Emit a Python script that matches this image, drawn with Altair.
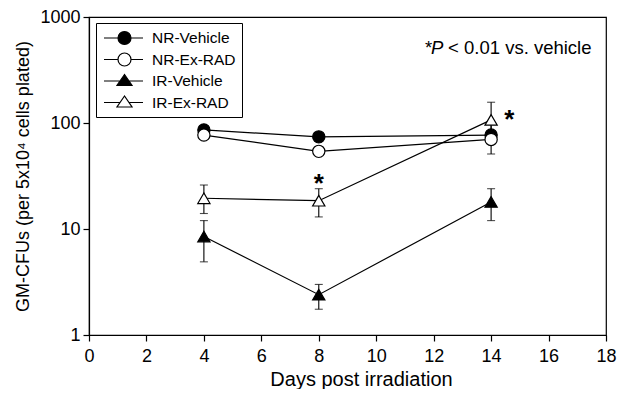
import altair as alt
import pandas as pd

days = [4, 8, 14]
series_names = ["NR-Vehicle", "NR-Ex-RAD", "IR-Vehicle", "IR-Ex-RAD"]
nr_vehicle = [86, 74, 77]
nr_vehicle_lo = [80, 70, 72]
nr_vehicle_hi = [93, 78, 81]
nr_exrad = [77, 54, 70]
nr_exrad_lo = [73, 50, 51]
nr_exrad_hi = [82, 58, 99]
ir_vehicle = [8.5, 2.4, 18]
ir_vehicle_lo = [4.9, 1.75, 12]
ir_vehicle_hi = [12, 3.0, 24]
ir_exrad = [19.5, 18.5, 107]
ir_exrad_lo = [14, 13, 75]
ir_exrad_hi = [26, 24, 157]

star_x = [8, 14.63]
star_y = [31, 124]
note_x = [11.7]
note_y = [447]

rows = []
for name, v, lo, hi in [
    ("NR-Vehicle", nr_vehicle, nr_vehicle_lo, nr_vehicle_hi),
    ("NR-Ex-RAD", nr_exrad, nr_exrad_lo, nr_exrad_hi),
    ("IR-Vehicle", ir_vehicle, ir_vehicle_lo, ir_vehicle_hi),
    ("IR-Ex-RAD", ir_exrad, ir_exrad_lo, ir_exrad_hi),
]:
    for d, a, l, h in zip(days, v, lo, hi):
        rows.append({"day": d, "value": a, "lo": l, "hi": h, "series": name, "series2": name})
df = pd.DataFrame(rows)

FONT = "Liberation Sans"
xs = alt.Scale(domain=[0, 18], nice=False)
ys = alt.Scale(type="log", domain=[1, 1000], nice=False)

x_enc = alt.X("day:Q", scale=xs, axis=alt.Axis(
    values=list(range(0, 19, 2)), title="Days post irradiation", grid=False, labelFlush=False,
    titleX=272, titleY=50, titleBaseline="alphabetic"))
y_enc = alt.Y("value:Q", scale=ys, axis=alt.Axis(
    values=[1, 10, 100, 1000], format="d", title="GM-CFUs (per 5x10⁴ cells plated)",
    grid=False, titleX=-66, titleBaseline="middle"))

fill_range = ["black", "white", "black", "white"]
shape_range = ["circle", "circle", "triangle-up", "triangle-up"]

base = alt.Chart(df)

lines = base.mark_line(color="black", strokeWidth=1.2).encode(
    x=x_enc, y=y_enc, detail="series:N")

rules = base.mark_rule(color="black", strokeWidth=1.1).encode(
    x="day:Q", y=alt.Y("lo:Q", scale=ys), y2="hi:Q")
cap_hi = base.mark_tick(color="black", orient="horizontal", size=8, thickness=1.1).encode(
    x="day:Q", y=alt.Y("hi:Q", scale=ys))
cap_lo = base.mark_tick(color="black", orient="horizontal", size=8, thickness=1.1).encode(
    x="day:Q", y=alt.Y("lo:Q", scale=ys))

points = base.mark_point(filled=False, stroke="black", strokeWidth=1.2, opacity=1).encode(
    x="day:Q", y=alt.Y("value:Q", scale=ys),
    shape=alt.Shape("series2:N", scale=alt.Scale(domain=series_names, range=shape_range), legend=None),
    fill=alt.Fill("series2:N", scale=alt.Scale(domain=series_names, range=fill_range), legend=None),
    size=alt.value(150),
)

circ = ("M-0.875,0H0.875M2.5,0H4M0.875,0A0.8125,0.8125 0 1,0 2.5,0"
        "A0.8125,0.8125 0 1,0 0.875,0Z")
tri = "M-0.875,0H1.13M2.245,0H4M1.6875,-0.81L0.7475,0.56L2.6275,0.56Z"
legend_shapes = [circ, circ, tri, tri]

fill_expr = "indexof(['NR-Vehicle','IR-Vehicle'], datum.value) >= 0 ? 'black' : 'white'"


def make_legend():
    return alt.Legend(
        title=None, orient="none", legendX=7, legendY=6,
        symbolOpacity=1, symbolSize=256, symbolStrokeColor="black",
        symbolStrokeWidth=1.2, labelFont=FONT, labelFontSize=15.5,
        labelColor="black", strokeColor="black", padding=6,
        rowPadding=3.5, labelOffset=32, labelBaseline="middle")


legend_layer = base.mark_point(opacity=0, strokeWidth=1.2,
                               fill=alt.ExprRef(fill_expr)).encode(
    x="day:Q", y=alt.Y("value:Q", scale=ys),
    shape=alt.Shape("series:N", scale=alt.Scale(domain=series_names, range=legend_shapes),
                    legend=make_legend()),
    stroke=alt.Stroke("series:N", scale=alt.Scale(domain=series_names, range=["black"] * 4),
                      legend=make_legend()),
)

stars_df = pd.DataFrame({"x": star_x, "y": star_y})
stars = alt.Chart(stars_df).mark_text(text="*", font=FONT, fontSize=26, fontWeight="bold",
                                      baseline="alphabetic", dy=15, color="black").encode(
    x="x:Q", y=alt.Y("y:Q", scale=ys))

note_df = pd.DataFrame({"x": note_x, "y": note_y})
note1 = alt.Chart(note_df).mark_text(text="*", font=FONT, fontSize=18.5, align="left",
                                     baseline="alphabetic", color="black").encode(
    x="x:Q", y=alt.Y("y:Q", scale=ys))
note2 = alt.Chart(note_df).mark_text(text="P", font=FONT, fontSize=18.5, fontStyle="italic",
                                     align="left", baseline="alphabetic", dx=6, color="black").encode(
    x="x:Q", y=alt.Y("y:Q", scale=ys))
note3 = alt.Chart(note_df).mark_text(text="< 0.01 vs. vehicle", font=FONT, fontSize=18.5,
                                     align="left", baseline="alphabetic", dx=23, color="black").encode(
    x="x:Q", y=alt.Y("y:Q", scale=ys))

chart = alt.layer(lines, rules, cap_hi, cap_lo, legend_layer, points, stars, note1, note2, note3).resolve_scale(
    shape="independent", fill="independent", stroke="independent"
).properties(
    width=517, height=318,
    autosize=alt.AutoSizeParams(type="none"),
    padding={"left": 81, "top": 9, "right": 11, "bottom": 54},
).configure_view(stroke="black", strokeWidth=1.2).configure_axis(
    labelFont=FONT, titleFont=FONT, labelFontSize=18, titleFontSize=20,
    labelColor="black", titleColor="black", domainColor="black", tickColor="black",
    tickSize=6, titleFontWeight="normal", domainWidth=1.2, tickWidth=1.2,
).configure_axisX(labelPadding=6).configure_axisY(titleFontSize=18, labelPadding=3)

chart.save("out.html", embed_options={"renderer": "svg", "actions": False})
